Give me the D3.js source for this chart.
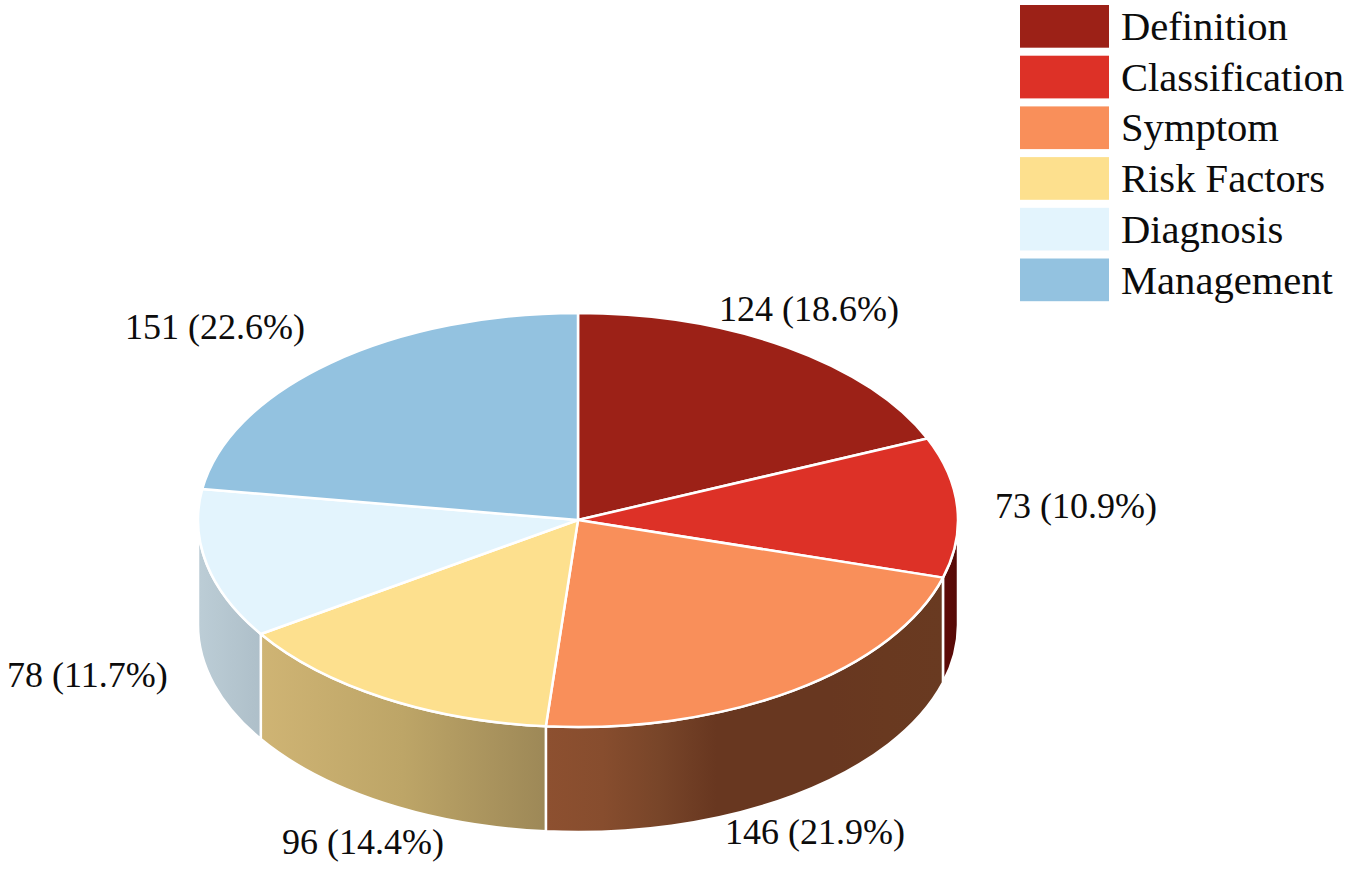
<!DOCTYPE html>
<html>
<head>
<meta charset="utf-8">
<script src="https://cdn.jsdelivr.net/npm/d3@7"></script>
<style>
  html, body { margin: 0; padding: 0; background: #fff; }
  svg { display: block; }
  text { font-family: "Liberation Serif", serif; fill: #0c0c0c; }
</style>
</head>
<body>
<svg id="chart" width="1355" height="870"></svg>
<script>
const categories = ['Definition', 'Classification', 'Symptom', 'Risk Factors', 'Diagnosis', 'Management'];
const counts = [124, 73, 146, 96, 78, 151];
const colors = ['#9c2117', '#dd3127', '#f98f5a', '#fde08e', '#e3f4fd', '#93c2e0'];
// side wall shading, left to right, evenly spaced stops per slice
const wallColors = [
  ['#5a0b08', '#5a0b08'],
  ['#5e0c08', '#560a07'],
  ['#8d5030', '#874d2e', '#784529', '#683720', '#683720', '#683720', '#693920', '#693a21'],
  ['#cfb474', '#bda567', '#9d8857'],
  ['#bccdd6', '#aebfc9'],
  ['#7d9fb8', '#7d9fb8']
];
// label anchors [left x, baseline y], same order as categories
const labelAnchors = [[719, 321], [995, 518], [725, 844], [282, 854], [7, 687], [125, 339]];

const cx = 578, cy = 520, rx = 380, ry = 207, depth = 105;
const total = d3.sum(counts);

const svg = d3.select('#chart');
const defs = svg.append('defs');

const pie = d3.pie().sort(null).value(d => d);
const slices = pie(counts);

const px = a => cx + rx * Math.sin(a);
const py = a => cy - ry * Math.cos(a);

// only the part of the rim between 90 and 270 degrees faces the viewer
function wallPath(d) {
  const a0 = Math.max(d.startAngle, Math.PI / 2);
  const a1 = Math.min(d.endAngle, Math.PI * 1.5);
  if (a1 <= a0) return null;
  return `M${px(a0)},${py(a0)}A${rx},${ry} 0 0 1 ${px(a1)},${py(a1)}` +
    `L${px(a1)},${py(a1) + depth}A${rx},${ry} 0 0 0 ${px(a0)},${py(a0) + depth}Z`;
}

slices.forEach((d, i) => {
  const grad = defs.append('linearGradient')
    .attr('id', `wall-${i}`)
    .attr('x1', 0).attr('x2', 1).attr('y1', 0).attr('y2', 0);
  const stops = wallColors[i];
  const offset = d3.scaleLinear().domain([0, stops.length - 1]).range([0, 1]);
  stops.forEach((c, j) => {
    grad.append('stop').attr('offset', offset(j)).attr('stop-color', c);
  });
});

svg.append('g').attr('class', 'walls')
  .selectAll('path')
  .data(slices.filter(d => wallPath(d)))
  .enter()
  .append('path')
  .attr('d', wallPath)
  .attr('fill', d => `url(#wall-${d.index})`)
  .attr('stroke', '#fff')
  .attr('stroke-width', 2.5)
  .attr('stroke-linejoin', 'round');

// circle arcs squashed into the tilted ellipse
const arc = d3.arc().innerRadius(0).outerRadius(rx);
svg.append('g').attr('class', 'top')
  .attr('transform', `translate(${cx},${cy}) scale(1,${ry / rx})`)
  .selectAll('path')
  .data(slices)
  .enter()
  .append('path')
  .attr('d', arc)
  .attr('fill', (d, i) => colors[i])
  .attr('stroke', '#fff')
  .attr('stroke-width', 2.5)
  .attr('stroke-linejoin', 'round')
  .attr('vector-effect', 'non-scaling-stroke');

svg.append('g').attr('class', 'labels')
  .selectAll('text')
  .data(counts)
  .enter()
  .append('text')
  .attr('x', (d, i) => labelAnchors[i][0])
  .attr('y', (d, i) => labelAnchors[i][1])
  .style('font-size', '36px')
  .text(d => `${d} (${(d / total * 100).toFixed(1)}%)`);

const legendY = d3.scaleBand().domain(categories).range([5, 301.2]).paddingInner(0.158).paddingOuter(0);
const legend = svg.append('g').attr('class', 'legend')
  .selectAll('g')
  .data(categories)
  .enter()
  .append('g')
  .attr('transform', d => `translate(1020,${legendY(d)})`);

legend.append('rect')
  .attr('width', 89)
  .attr('height', legendY.bandwidth())
  .attr('fill', (d, i) => colors[i]);

legend.append('text')
  .attr('x', 101)
  .attr('y', 35)
  .style('font-size', '40.6px')
  .text(d => d);
</script>
</body>
</html>
